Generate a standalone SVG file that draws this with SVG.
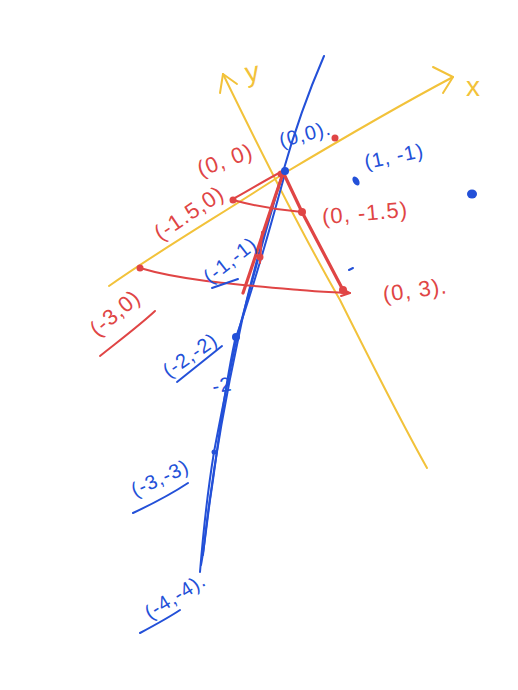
<svg xmlns="http://www.w3.org/2000/svg" width="518" height="690" viewBox="0 0 518 690">
<style>
.y{stroke:#f2c23a;fill:none;stroke-width:2;stroke-linecap:round;stroke-linejoin:round}
.r{stroke:#e04545;fill:none;stroke-width:2;stroke-linecap:round;stroke-linejoin:round}
.rt{stroke:#e04545;fill:none;stroke-width:3.2;stroke-linecap:round}
.b{stroke:#2350d8;fill:none;stroke-width:2;stroke-linecap:round;stroke-linejoin:round}
.rd{fill:#e04545}
.bd{fill:#2350d8}
text{font-family:"Liberation Sans","DejaVu Sans",sans-serif;text-anchor:middle;dominant-baseline:central}
.rtx{fill:#e04545;font-size:22px;letter-spacing:1px}
.btx{fill:#2350d8;font-size:20px;letter-spacing:1px}
.ytx{fill:#f2c23a;font-size:28px}
</style>
<rect width="518" height="690" fill="#ffffff"/>
<g id="axes">
  <path class="y" d="M223,74 C260,150 300,230 340,300 C370,360 400,420 427,468"/>
  <path class="y" d="M220,93 L223,74 L237,84"/>
  <path class="y" d="M109,286 C160,250 220,215 283,174 C340,140 400,105 453,77"/>
  <path class="y" d="M433,67 L453,77 L443,93"/>
  <text class="ytx" x="252" y="72" transform="rotate(-10 252 72)">y</text>
  <text class="ytx" x="473" y="86">x</text>
</g>
<g id="blue-line">
  <path class="b" d="M324,56 C305,100 292,140 283,172 C270,215 255,270 237,337 C228,380 220,420 214,452 C207,495 203,535 200,572"/>
  <path class="b" d="M281,178 C268,220 250,280 239,335 C225,400 212,470 203,555"/>
  <path class="b" d="M286,170 C272,220 258,275 235,340 C222,400 218,450 210,500 C206,530 204,550 201,565"/>
</g>
<g id="red-lines">
  <path class="r" d="M140,268 C180,280 230,284 300,290 C320,292 335,292 350,293"/>
  <path class="r" d="M341,288 L350,293 L341,296"/>
  <path class="r" d="M233,200 C255,206 275,210 302,212"/>
  <path class="r" d="M233,199 C250,190 265,180 283,171"/>
  <path class="rt" d="M283,172 L302,212 L343,290"/>
  <path class="rt" d="M283,174 C270,210 258,250 243,293"/>
  <path class="r" d="M262,232 L260,263"/>
  <path class="r" d="M100,356 C120,340 140,325 155,311"/>
</g>
<g id="dots">
  <circle class="rd" cx="335" cy="138" r="3.5"/>
  <circle class="rd" cx="233" cy="200" r="3.5"/>
  <circle class="rd" cx="140" cy="268" r="3.5"/>
  <circle class="rd" cx="302" cy="212" r="4"/>
  <circle class="rd" cx="343" cy="290" r="4"/>
  <circle class="rd" cx="260" cy="257" r="3.5"/>
  <circle class="rd" cx="281" cy="174" r="3.5"/>
  <circle class="bd" cx="285" cy="171" r="4"/>
  <circle class="bd" cx="236" cy="337" r="4"/>
  <circle class="bd" cx="214" cy="452" r="2.5"/>
  <ellipse class="bd" cx="356" cy="181" rx="3" ry="5" transform="rotate(-30 356 181)"/>
  <ellipse class="bd" cx="472" cy="194" rx="5" ry="4.5"/>
  <path class="b" d="M349,270 L353,268"/>
</g>
<g id="labels">
  <text class="rtx" x="225" y="160" font-size="25" transform="rotate(-20 225 160)">(0, 0)</text>
  <text class="rtx" x="189" y="213" font-size="24" transform="rotate(-34 189 213)">(-1.5,0)</text>
  <text class="rtx" x="115" y="313" font-size="27" transform="rotate(-40 115 313)">(-3,0)</text>
  <text class="rtx" x="365" y="213" transform="rotate(-5 365 213)">(0, -1.5)</text>
  <text class="rtx" x="415" y="290" font-size="23" letter-spacing="3" transform="rotate(-8 415 290)">(0, 3).</text>
  <text class="btx" x="305" y="134" font-size="22" transform="rotate(-15 305 134)">(0,0).</text>
  <text class="btx" x="394" y="156" font-size="22" transform="rotate(-12 394 156)">(1, -1)</text>
  <text class="btx" x="230" y="260" font-size="19" transform="rotate(-38 230 260)">(-1,-1)</text>
  <path class="b" d="M212,288 L238,279"/>
  <text class="btx" x="190" y="355" transform="rotate(-35 190 355)">(-2,-2)</text>
  <path class="b" d="M177,382 L222,346"/>
  <text class="btx" x="222" y="385" font-size="17" transform="rotate(-10 222 385)">-2</text>
  <text class="btx" x="160" y="478" font-size="25" transform="rotate(-25 160 478)">(-3,-3)</text>
  <path class="b" d="M133,513 C150,505 170,495 188,483"/>
  <text class="btx" x="175" y="596" font-size="24" transform="rotate(-32 175 596)">(-4,-4).</text>
  <path class="b" d="M140,633 C155,625 168,618 180,610"/>
</g>
</svg>
